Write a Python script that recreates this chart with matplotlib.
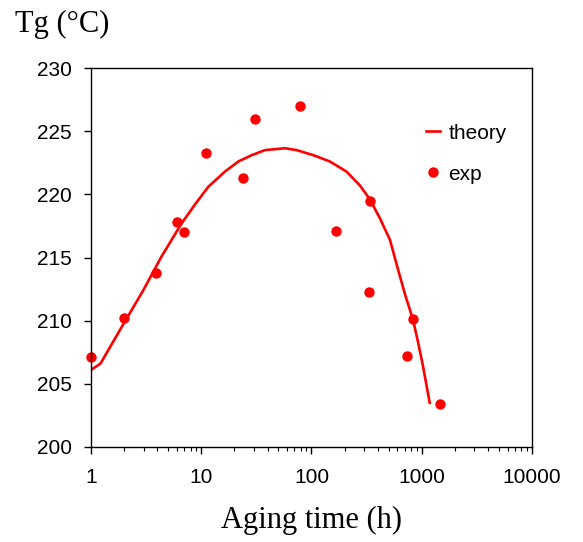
import numpy as np
import matplotlib.pyplot as plt
from matplotlib.ticker import FixedLocator, FixedFormatter, LogLocator, NullFormatter

# experimental points (aging time in h, Tg in C)
exp_t = [1.0, 1.99, 3.9, 6.0, 7.0, 11.0, 23.9, 30.7, 78.7, 167, 339, 332, 735, 833, 1465]
exp_tg = [207.1, 210.2, 213.8, 217.8, 217.0, 223.3, 221.3, 226.0, 227.0, 217.1, 219.5, 212.3, 207.2, 210.1, 203.4]

# theory curve
theory_t = [1.0, 1.22, 1.99, 2.98, 4.38, 6.64, 8.78, 11.6, 16.4, 21.7, 28.7, 37.9, 57.6, 73.4,
            104, 147, 208, 275, 339, 418, 515, 612, 710, 833, 931, 1027, 1181]
theory_tg = [206.1, 206.6, 209.8, 212.4, 215.1, 217.7, 219.2, 220.6, 221.8, 222.6, 223.1, 223.5, 223.65, 223.5,
             223.1, 222.6, 221.8, 220.7, 219.6, 218.1, 216.4, 214.0, 212.0, 210.1, 208.2, 206.4, 203.5]

xticks = [1, 10, 100, 1000, 10000]
xticklabels = ['1', '10', '100', '1000', '10000']
yticks = [200, 205, 210, 215, 220, 225, 230]

plt.rcParams['font.family'] = 'Liberation Sans'

fig = plt.figure(figsize=(5.83, 5.42), dpi=100)
ax = fig.add_axes([0.156, 0.1753, 0.7565, 0.6992])

ax.plot(theory_t, theory_tg, '-', color='#ff0000', lw=1.9, label='theory')
ax.plot(exp_t, exp_tg, 'o', color='#ff0000', ms=7.5, mec='none', label='exp', clip_on=False)

ax.set_xscale('log')
ax.set_xlim(1, 10000)
ax.set_ylim(200, 230)
ax.xaxis.set_major_locator(FixedLocator(xticks))
ax.xaxis.set_major_formatter(FixedFormatter(xticklabels))
ax.xaxis.set_minor_locator(LogLocator(base=10, subs=np.arange(2, 10)))
ax.xaxis.set_minor_formatter(NullFormatter())
ax.set_yticks(yticks)

for s in ax.spines.values():
    s.set_linewidth(1.0)
ax.tick_params(axis='both', which='major', labelsize=15, length=5, width=1, direction='out')
ax.tick_params(axis='x', which='major', pad=10)
ax.tick_params(axis='y', which='major', pad=9)
ax.tick_params(axis='x', which='minor', length=3, width=0.8, direction='out')

ax.legend(loc='upper left', bbox_to_anchor=(0.74, 0.875), frameon=False, fontsize=15,
          handlelength=0.7, handletextpad=0.4, labelspacing=1.05, borderaxespad=0)

fig.text(0.026, 1 - 32 / 542, 'Tg (\u00b0C)', family='Liberation Serif', fontsize=22, va='baseline')
fig.text(0.534, 1 - 528 / 542, 'Aging time (h)', family='Liberation Serif', fontsize=22,
         va='baseline', ha='center')

fig.savefig('out.png', dpi=100)
